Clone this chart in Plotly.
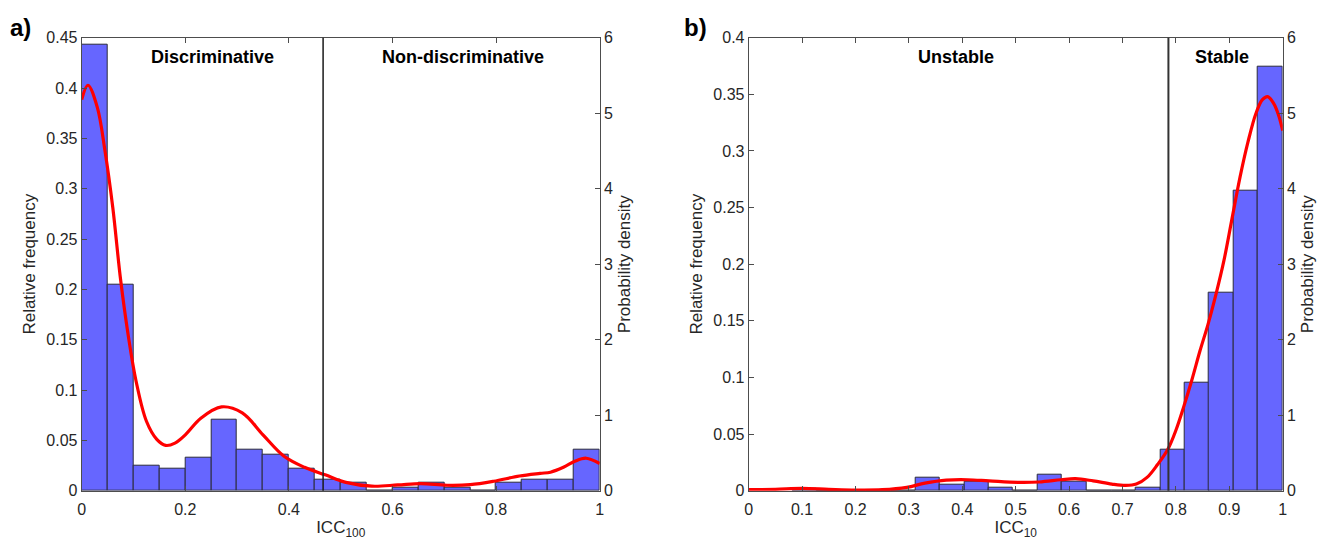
import plotly.graph_objects as go

# ---------------- data ----------------
# Panel a: ICC100 histogram (bin width 0.05)
a_bin_left = [0.00, 0.05, 0.10, 0.15, 0.20, 0.25, 0.30, 0.35, 0.40, 0.45,
              0.50, 0.55, 0.60, 0.65, 0.70, 0.75, 0.80, 0.85, 0.90, 0.95]
a_bin_width = 0.05
a_rel_freq = [0.443, 0.205, 0.0245, 0.0215, 0.0328, 0.0709, 0.0407, 0.0354, 0.0215, 0.0106,
              0.008, 0.0, 0.0026, 0.008, 0.0026, 0.0, 0.008, 0.0106, 0.0106, 0.0407]
# Panel a: kernel density curve
a_pdf_x = [0.0, 0.012, 0.03, 0.045, 0.06, 0.075, 0.09, 0.105, 0.125, 0.145, 0.162, 0.18,
           0.2, 0.23, 0.27, 0.31, 0.35, 0.39, 0.43, 0.47, 0.51, 0.56, 0.61, 0.655, 0.705,
           0.75, 0.795, 0.845, 0.885, 0.905, 0.93, 0.952, 0.974, 1.0]
a_pdf_y = [5.18, 5.37, 5.08, 4.5, 3.75, 2.8, 2.05, 1.45, 0.92, 0.68, 0.6, 0.63,
           0.74, 0.96, 1.11, 1.03, 0.74, 0.46, 0.31, 0.21, 0.11, 0.06, 0.076, 0.095, 0.072,
           0.08, 0.125, 0.195, 0.23, 0.245, 0.31, 0.39, 0.43, 0.36]
a_threshold = 0.466

# Panel b: ICC10 histogram
b_bin_left = [0.082, 0.128, 0.174, 0.220, 0.266, 0.312, 0.358, 0.404, 0.449, 0.495,
              0.541, 0.587, 0.633, 0.679, 0.725, 0.771, 0.817, 0.862, 0.908, 0.954]
b_bin_width = 0.0459
b_rel_freq = [0.002, 0.0, 0.0, 0.0, 0.0, 0.0112, 0.0055, 0.0078, 0.0025, 0.0,
              0.014, 0.0082, 0.0, 0.0, 0.0025, 0.0358, 0.0958, 0.175, 0.265, 0.3745]
# Panel b: kernel density curve
b_pdf_x = [0.0, 0.05, 0.1, 0.15, 0.2, 0.25, 0.296, 0.33, 0.37, 0.41, 0.45, 0.504, 0.544,
           0.585, 0.612, 0.645, 0.68, 0.706, 0.726, 0.746, 0.766, 0.785, 0.80, 0.815, 0.83,
           0.845, 0.86, 0.875, 0.89, 0.905, 0.92, 0.935, 0.95, 0.962, 0.972, 0.983, 0.992, 1.0]
b_pdf_y = [0.013, 0.018, 0.03, 0.018, 0.009, 0.013, 0.044, 0.10, 0.14, 0.145, 0.13, 0.11, 0.115,
           0.145, 0.159, 0.13, 0.088, 0.07, 0.088, 0.176, 0.35, 0.55, 0.8, 1.12, 1.47,
           1.85, 2.2, 2.6, 3.05, 3.6, 4.15, 4.62, 5.0, 5.18, 5.22, 5.13, 4.98, 4.77]
b_threshold = 0.786

a_xticks = [0, 0.2, 0.4, 0.6, 0.8, 1]
a_xticklabels = ["0", "0.2", "0.4", "0.6", "0.8", "1"]
a_yticks = [0, 0.05, 0.1, 0.15, 0.2, 0.25, 0.3, 0.35, 0.4, 0.45]
a_yticklabels = ["0", "0.05", "0.1", "0.15", "0.2", "0.25", "0.3", "0.35", "0.4", "0.45"]
b_xticks = [0, 0.1, 0.2, 0.3, 0.4, 0.5, 0.6, 0.7, 0.8, 0.9, 1]
b_xticklabels = ["0", "0.1", "0.2", "0.3", "0.4", "0.5", "0.6", "0.7", "0.8", "0.9", "1"]
b_yticks = [0, 0.05, 0.1, 0.15, 0.2, 0.25, 0.3, 0.35, 0.4]
b_yticklabels = ["0", "0.05", "0.1", "0.15", "0.2", "0.25", "0.3", "0.35", "0.4"]
pdf_ticks = [0, 1, 2, 3, 4, 5, 6]

# ---------------- style ----------------
OFF = 8  # default page body margin
W, H = 1333 - OFF, 545 - OFF
FONT = "Liberation Sans, Arial, sans-serif"
AX = "#4d4d4d"
TXT = "#262626"
BAR = "#6666ff"
EDGE = "#2b2b3a"


def px_x(p):
    return (p - OFF) / W


def px_y(p):
    return 1 - (p - OFF) / H


ydom = [px_y(490.7), px_y(37.7)]
xdom_a = [px_x(81.7), px_x(599.7)]
xdom_b = [px_x(748.7), px_x(1282.7)]

fig = go.Figure()

a_centers = [l + a_bin_width / 2 for l in a_bin_left]
b_centers = [l + b_bin_width / 2 for l in b_bin_left]

fig.add_trace(go.Bar(x=a_centers, y=a_rel_freq, width=a_bin_width,
                     marker=dict(color=BAR, line=dict(color=EDGE, width=1)),
                     xaxis="x", yaxis="y", showlegend=False))
fig.add_trace(go.Scatter(x=a_pdf_x, y=a_pdf_y, mode="lines",
                         line=dict(color="#ff0000", width=3.2, shape="spline", smoothing=1.0),
                         xaxis="x", yaxis="y2", showlegend=False))
fig.add_trace(go.Bar(x=b_centers, y=b_rel_freq, width=b_bin_width,
                     marker=dict(color=BAR, line=dict(color=EDGE, width=1)),
                     xaxis="x2", yaxis="y3", showlegend=False))
fig.add_trace(go.Scatter(x=b_pdf_x, y=b_pdf_y, mode="lines",
                         line=dict(color="#ff0000", width=3.2, shape="spline", smoothing=1.0),
                         xaxis="x2", yaxis="y4", showlegend=False))

tickfont = dict(family=FONT, size=16, color=TXT)
titlefont = dict(family=FONT, size=17, color=TXT)

common_x = dict(range=[0, 1], showline=True, linecolor=AX, linewidth=1, mirror="ticks",
                ticks="inside", ticklen=5, tickcolor=AX, showgrid=False, zeroline=False,
                tickfont=tickfont, automargin=False, ticklabelstandoff=4)
common_y = dict(showline=True, linecolor=AX, linewidth=1, ticks="inside", ticklen=5,
                tickcolor=AX, showgrid=False, zeroline=False, tickfont=tickfont,
                automargin=False)

fig.update_layout(
    width=W, height=H,
    margin=dict(l=0, r=0, t=0, b=0),
    paper_bgcolor="white", plot_bgcolor="white",
    bargap=0,
    font=dict(family=FONT, color=TXT),
    xaxis=dict(domain=xdom_a, anchor="y", tickvals=a_xticks, ticktext=a_xticklabels,
               title=dict(text="ICC<sub>100</sub>", font=titlefont, standoff=4), **common_x),
    yaxis=dict(domain=ydom, anchor="x", range=[0, 0.45], tickvals=a_yticks,
               ticktext=a_yticklabels,
               title=dict(text="Relative frequency", font=titlefont, standoff=6), **common_y),
    yaxis2=dict(overlaying="y", anchor="x", side="right", range=[0, 6], tickvals=pdf_ticks,
                title=dict(text="Probability density", font=titlefont, standoff=6), **common_y),
    xaxis2=dict(domain=xdom_b, anchor="y3", tickvals=b_xticks, ticktext=b_xticklabels,
                title=dict(text="ICC<sub>10</sub>", font=titlefont, standoff=4), **common_x),
    yaxis3=dict(domain=ydom, anchor="x2", range=[0, 0.4], tickvals=b_yticks,
                ticktext=b_yticklabels,
                title=dict(text="Relative frequency", font=titlefont, standoff=6), **common_y),
    yaxis4=dict(overlaying="y3", anchor="x2", side="right", range=[0, 6], tickvals=pdf_ticks,
                title=dict(text="Probability density", font=titlefont, standoff=6), **common_y),
)

# threshold lines
fig.add_shape(type="line", xref="x", yref="y domain", x0=a_threshold, x1=a_threshold,
              y0=0, y1=1, line=dict(color="#1a1a1a", width=1.5))
fig.add_shape(type="line", xref="x2", yref="y3 domain", x0=b_threshold, x1=b_threshold,
              y0=0, y1=1, line=dict(color="#333333", width=2))

lab_font = dict(family=FONT, size=18, color="black")
ylab = px_y(57)
for txt, xr, xv in [("<b>Discriminative</b>", "x", 0.252),
                    ("<b>Non-discriminative</b>", "x", 0.736),
                    ("<b>Unstable</b>", "x2", 0.389),
                    ("<b>Stable</b>", "x2", 0.887)]:
    fig.add_annotation(text=txt, xref=xr, yref="paper", x=xv, y=ylab, showarrow=False,
                       font=lab_font, xanchor="center", yanchor="middle")

panel_font = dict(family=FONT, size=24, color="black")
fig.add_annotation(text="<b>a)</b>", xref="paper", yref="paper", x=px_x(8), y=px_y(27),
                   showarrow=False, font=panel_font, xanchor="left", yanchor="middle")
fig.add_annotation(text="<b>b)</b>", xref="paper", yref="paper", x=px_x(682), y=px_y(27),
                   showarrow=False, font=panel_font, xanchor="left", yanchor="middle")

fig.write_html("out.html")
